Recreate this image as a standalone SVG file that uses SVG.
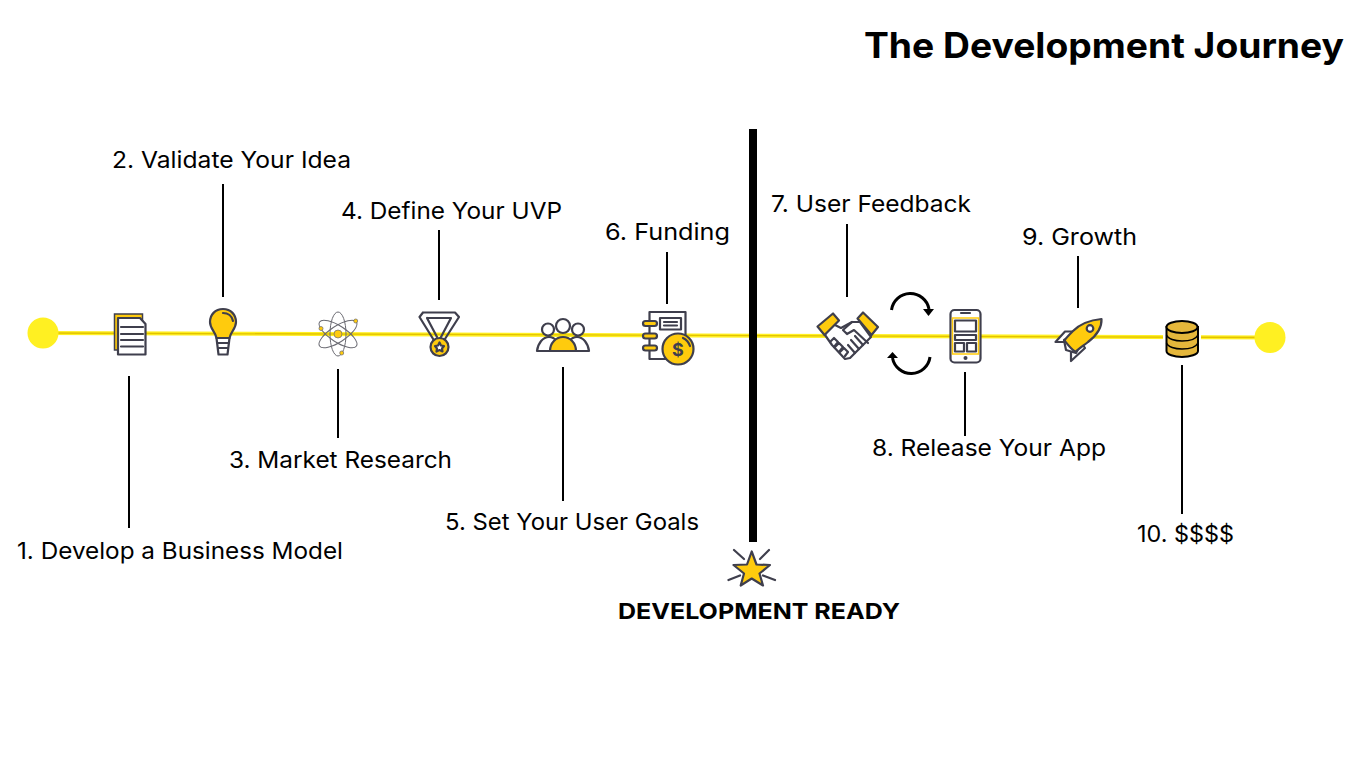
<svg xmlns="http://www.w3.org/2000/svg" width="1366" height="768" viewBox="0 0 1366 768">
<style>
text{font-family:"Inter","Open Sans","Liberation Sans",sans-serif;fill:#000}
.l{font-size:23px;font-weight:400}
.b{font-weight:700}
.ld{stroke:#000;stroke-width:2;fill:none}
.o{stroke:#3f3f4d;stroke-width:2.200;stroke-linejoin:round;stroke-linecap:round}
.y{fill:#ffcb0d}.w{fill:#fff}.n{fill:none}
.d{fill:#e5b73b;stroke:#000;stroke-width:2}
.arc{fill:none;stroke:#000;stroke-width:3}
</style>
<rect width="1366" height="768" fill="#fff"/>
<g id="connectors">
<line x1="43" y1="333" x2="1270" y2="337.500" stroke="#fff022" stroke-width="4"/>
<line x1="43" y1="333" x2="1270" y2="337.500" stroke="#e3c200" stroke-width="1.300"/>
<line class="ld" x1="129" y1="376" x2="129" y2="528"/>
<line class="ld" x1="223" y1="184" x2="223" y2="297"/>
<line class="ld" x1="338" y1="369" x2="338" y2="438"/>
<line class="ld" x1="439" y1="230" x2="439" y2="300"/>
<line class="ld" x1="563" y1="367" x2="563" y2="501"/>
<line class="ld" x1="667" y1="252" x2="667" y2="304"/>
<line class="ld" x1="847" y1="224" x2="847" y2="297"/>
<line class="ld" x1="965" y1="372" x2="965" y2="436"/>
<line class="ld" x1="1078" y1="256" x2="1078" y2="308"/>
<line class="ld" x1="1182" y1="365" x2="1182" y2="514"/>
</g>
<text x="864" y="58" font-size="35" class="b" textLength="480" lengthAdjust="spacingAndGlyphs">The Development Journey</text>
<g id="start"><circle cx="43" cy="333" r="15.500" fill="#fff022"/></g>
<g id="end"><circle cx="1270" cy="337.500" r="15.500" fill="#fff022"/></g>

<g id="step1">
<path class="y" stroke="#3f3f4d" stroke-width="1.500" d="M114.500 314H142.500V350H114.500Z"/>
<path class="w o" d="M118 318H140L145.500 324V354.500H118Z"/>
<path class="o n" d="M121 327H143M121 334H143M121 340H143M121 346.500H143"/>
<text class="l" x="17" y="559" textLength="326" lengthAdjust="spacingAndGlyphs">1. Develop a Business Model</text>
</g>
<g id="step2">
<path class="y o" stroke-width="2.500" d="M223 309C215 309 210 315 210 322C210 329 215.500 331.500 216.500 338H229.500C230.500 331.500 236 329 236 322C236 315 231 309 223 309Z"/>
<path class="w o" d="M216.500 338H229.500L227.500 354.500H218.500Z"/>
<path class="o n" d="M218 343H228M218.500 348H227.500M223 313C228 313 232 316 233 321"/>
<text class="l" x="112" y="168" textLength="239" lengthAdjust="spacingAndGlyphs">2. Validate Your Idea</text>
</g>
<g id="step3">
<g fill="none" stroke="#6a6a72" stroke-width="1">
<ellipse cx="338" cy="334" rx="22" ry="8" transform="rotate(33 338 334)"/>
<ellipse cx="338" cy="334" rx="22" ry="8" transform="rotate(-33 338 334)"/>
<ellipse cx="338" cy="334" rx="22" ry="8" transform="rotate(90 338 334)"/>
</g>
<g class="y" stroke="#6a6a72" stroke-width=".7">
<circle cx="338" cy="334" r="4"/><circle cx="355.700" cy="321" r="2"/><circle cx="321" cy="328.500" r="2"/><circle cx="341.700" cy="353" r="2"/>
</g>
<text class="l" x="229" y="468" textLength="223" lengthAdjust="spacingAndGlyphs">3. Market Research</text>
</g>
<g id="step4">
<path class="o n" d="M423 312.500H455L459 317L443 342M419.500 317L435 342M419.500 317L423 312.500M427 318H451L441 337M427 318L437 337"/>
<circle class="y o" cx="439.500" cy="347" r="9"/>
<path class="w o" stroke-width="1.300" d="M439.500 342.500L441 345.500L444 346L442 348.500L442.500 351.500L439.500 350L436.500 351.500L437 348.500L435 346L438 345.500Z"/>
<text class="l" x="341" y="219" textLength="221" lengthAdjust="spacingAndGlyphs">4. Define Your UVP</text>
</g>
<g id="step5">
<path class="w o" d="M537 351C538 343 543 337 549 337C555 337 560 343 561 351Z"/>
<path class="w o" d="M589 351C588 343 583 337 577 337C571 337 566 343 565 351Z"/>
<path class="y o" d="M550 351C550 343 556 337 563 337C570 337 576 343 576 351Z"/>
<circle class="w o" cx="548" cy="329.500" r="6"/>
<circle class="w o" cx="578" cy="329.500" r="6"/>
<circle class="w o" cx="563" cy="326" r="7"/>
<text class="l" x="445" y="530" textLength="254" lengthAdjust="spacingAndGlyphs">5. Set Your User Goals</text>
</g>
<g id="step6">
<rect class="w o" x="649.500" y="312" width="36" height="47"/>
<rect class="w o" x="660" y="318" width="21" height="11.500"/>
<path class="o n" d="M664 322H677M664 325.500H677"/>
<rect class="y o" x="643" y="321" width="14" height="5" rx="2.500"/>
<rect class="y o" x="643" y="333.500" width="14" height="5" rx="2.500"/>
<rect class="y o" x="643" y="345.500" width="14" height="5" rx="2.500"/>
<circle class="y o" cx="678" cy="349" r="15.500"/>
<path class="n o" d="M683 338C687 340 689 343 690 346"/>
<text x="678" y="355.500" font-size="18" class="b" text-anchor="middle" style="fill:#3f3f4d">$</text>
<text class="l" x="605" y="240" textLength="125" lengthAdjust="spacingAndGlyphs">6. Funding</text>
</g>
<g id="development-ready">
<rect x="749" y="129" width="8" height="413" fill="#000"/>
<path class="y o" d="M751.700 551.500L756.500 564.500L770 565L759.500 573.500L763 585.500L751.700 578.500L740.700 585.500L744 573.500L733.500 565L747 564.500Z"/>
<path class="o n" stroke-width="1.500" d="M734 550L744 559M769 550L760 559M728.500 580L740 575.500M775 580L763 575.500"/>
<text x="618" y="619" font-size="22" class="b" textLength="282" lengthAdjust="spacingAndGlyphs">DEVELOPMENT READY</text>
</g>
<g id="step7">
<path class="w o" d="M831 323L841 328L852 322L860 322L871 337L856 352L850 358L845 359L832 345L825 335Z"/>
<path class="y o" d="M817.500 326.500L833 313.500L839 320.500L824.500 335Z"/>
<path class="y o" d="M857.500 318.500L863 312.500L878 327L871.500 335Z"/>
<path class="n o" d="M852 322L843 330L847 334L854 330L868 343M830 342L834 338L838 342L834 347M835 347L839 343L843 347L839 352M840 352L844 348L848 352L845 356M855 336L863 345M851 340L859 349M848 345L855 353"/>
<text class="l" x="771" y="212" textLength="200" lengthAdjust="spacingAndGlyphs">7. User Feedback</text>
</g>
<g id="cycle">
<path class="arc" d="M891.500 310A19 19 0 0 1 929 309"/>
<path d="M923 309H934L928.500 316Z"/>
<path class="arc" d="M930 357A19 19 0 0 1 892.500 358"/>
<path d="M887 358H898L892.500 352Z"/>
</g>
<g id="step8">
<rect class="w o" x="950.500" y="310" width="30" height="52.500" rx="4"/>
<rect x="952.500" y="318" width="26" height="36" fill="#fff" stroke="#ffcb0d" stroke-width="1.500"/>
<rect class="w o" stroke-width="1.500" x="955" y="320.500" width="21" height="11"/>
<rect class="w o" stroke-width="1.500" x="955" y="335" width="21" height="5"/>
<rect class="w o" stroke-width="1.500" x="955" y="343" width="9" height="8.500"/>
<rect class="w o" stroke-width="1.500" x="967" y="343" width="9" height="8.500"/>
<path class="n o" d="M961 313H970"/>
<circle cx="965.500" cy="358" r="2" fill="#3f3f4d"/>
<text class="l" x="872" y="456" textLength="234" lengthAdjust="spacingAndGlyphs">8. Release Your App</text>
</g>
<g id="step9">
<path class="w o" d="M1055.500 342L1065 331.500H1074L1066 342Z"/>
<path class="w o" d="M1071 361L1071 350L1081 342L1085 348Z"/>
<path class="w o" d="M1064 340L1071 336L1080 346L1076 353L1066 350Z"/>
<path class="y o" d="M1101.500 319C1091 320 1081 323 1073 331C1069 335 1066 338 1064.500 340.500C1068 345 1071 349 1075.500 352C1078 349 1083 346 1088 342C1096 336 1102 329 1101.500 319Z"/>
<circle class="w o" cx="1090" cy="328.500" r="3.300"/>
<text class="l" x="1022" y="245" textLength="115" lengthAdjust="spacingAndGlyphs">9. Growth</text>
</g>
<g id="step10">
<rect x="1163" y="318" width="38" height="42" fill="#fff"/>
<path class="d" d="M1166.500 327V351C1166.500 354.500 1174 357 1182 357C1190 357 1198 354.500 1198 351V327Z"/>
<ellipse class="d" cx="1182" cy="327" rx="15.500" ry="6"/>
<path class="n" stroke="#000" stroke-width="1.600" d="M1166.500 335C1168 339 1175 341 1182 341C1189 341 1196 339 1198 335M1166.500 343C1168 347 1175 349 1182 349C1189 349 1196 347 1198 343"/>
<text class="l" x="1137" y="542" textLength="97" lengthAdjust="spacingAndGlyphs">10. $$$$</text>
</g>
</svg>
